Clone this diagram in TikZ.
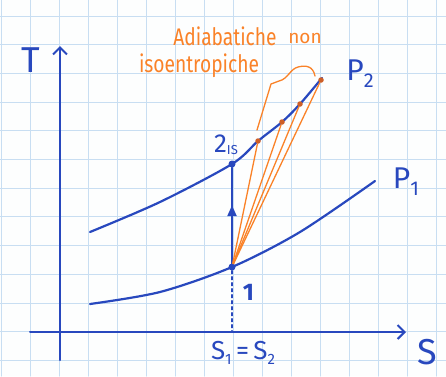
\documentclass[tikz,border=0pt]{standalone}
\usepackage{fontspec}
\setmainfont{Fira Sans}
\usetikzlibrary{arrows.meta, positioning, calc}
\definecolor{inkblue}{RGB}{40, 72, 190}
\definecolor{inkorange}{RGB}{250, 130, 40}
\definecolor{dotbrown}{RGB}{205, 95, 40}
\definecolor{gridblue}{RGB}{200, 222, 242}

\begin{document}
\begin{tikzpicture}[x=1pt, y=-1pt, line cap=round,
    curve/.style={inkblue, line width=2.2pt},
    axis/.style={inkblue, line width=2pt, -{Straight Barb[length=7pt, width=14pt]}},
    dot/.style={circle, fill=inkblue, inner sep=0pt, minimum size=7pt},
    odot/.style={circle, fill=dotbrown, inner sep=0pt, minimum size=5.5pt},
    adiab/.style={inkorange, line width=1.3pt},
    lbl/.style={inkblue, inner sep=0pt, font=\fontsize{30}{30}\selectfont},
    olbl/.style={inkorange, inner sep=0pt, xscale=0.8, font=\fontsize{24}{24}\selectfont}]
    \useasboundingbox (0,0) rectangle (446,376);
    \fill[white!97!gridblue] (0,0) rectangle (446,376);
    % graph paper
    \foreach \i in {0,...,15}
        \draw[gridblue, line width=1pt] (1+29*\i,0) -- (1+29*\i,376);
    \foreach \j in {0,...,13}
        \draw[gridblue, line width=1pt] (0,16+28.7*\j) -- (446,16+28.7*\j);

    % axes
    \coordinate (tfoot) at (60,360);
    \coordinate (ttop) at (60,46);
    \coordinate (sfoot) at (30,332);
    \coordinate (stop) at (406,332);
    \draw[axis] (tfoot) -- (ttop);
    \draw[axis] (sfoot) -- (stop);
    \node[lbl, font=\fontsize{36}{36}\selectfont] (tlabel) at (31,60) {T};
    \node[lbl, font=\fontsize{36}{36}\selectfont] (slabel) at (427,352) {S};

    % isobars
    \draw[curve] plot[smooth] coordinates {(90,304) (160,292) (232,267) (300,232) (375,181)};
    \draw[curve] plot[smooth] coordinates {(90,232) (160,202) (232,164) (258,141) (282,122) (300,104) (322,78)};
    \node[lbl] (p1label) at (406,182) {P\raisebox{-7pt}{\fontsize{20}{20}\selectfont 1}};
    \node[lbl] (p2label) at (360,74) {P\raisebox{-7pt}{\fontsize{20}{20}\selectfont 2}};

    % states
    \node[dot] (one) at (232,267) {};
    \node[dot] (twois) at (232,164) {};
    \node[lbl, font=\bfseries\fontsize{24}{24}\selectfont, right=7pt of one, yshift=-25pt] (onelabel) {1};
    \node[lbl, above=5pt of twois, xshift=-6pt, font=\fontsize{26}{26}\selectfont] (twolabel) {2\raisebox{-2pt}{\fontsize{13}{13}\selectfont IS}};
    \coordinate (sbase) at (232,332);
    \draw[inkblue, line width=1.4pt, dashed] (one) -- (sbase);
    \node[lbl, below=9pt of sbase, xshift=11pt, font=\fontsize{26}{26}\selectfont] (slabels) {S\raisebox{-5pt}{\fontsize{15}{15}\selectfont 1}\,=\,S\raisebox{-5pt}{\fontsize{15}{15}\selectfont 2}};
    \draw[curve] (one) -- (twois);
    \draw[curve, -{Triangle[length=11pt, width=9pt]}] (one) -- ($(one)!0.6!(twois)$);

    % non isentropic compressions
    \node[odot] (a1) at (258,141) {};
    \node[odot] (a2) at (282,122) {};
    \node[odot] (a3) at (300,104) {};
    \node[odot] (a4) at (321,80) {};
    \foreach \e in {a1,a2,a3,a4}
        \draw[adiab] (one) -- (\e);
    \draw[adiab] (257,130) -- (271,84) -- (279,81)
        .. controls (288,79) and (290,69) .. (298,67)
        .. controls (306,65) and (313,66) .. (315,76);
    \node[olbl] (adlabel) at (225,36) {Adiabatiche};
    \node[olbl, xscale=1.25, font=\fontsize{19}{19}\selectfont] (nonlabel) at (305,38) {non};
    \node[olbl] (isolabel) at (199,66) {isoentropiche};
\end{tikzpicture}
\end{document}
